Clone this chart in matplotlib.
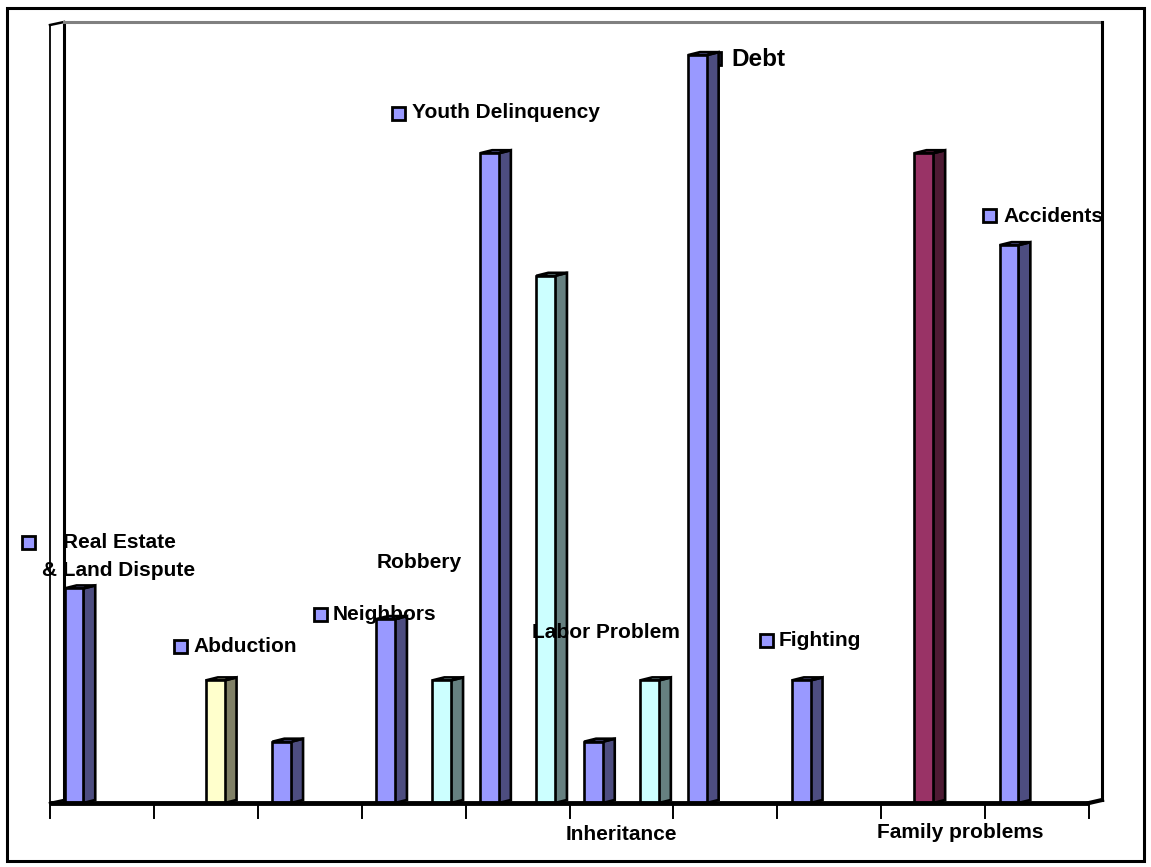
import matplotlib
matplotlib.use("Agg")
import matplotlib.pyplot as plt
from matplotlib.patches import Polygon, Rectangle

# ---------------- data ----------------
categories = ["Real Estate & Land Dispute", "Abduction", "Neighbors", "Robbery",
              "Youth Delinquency", "Labor Problem", "Debt", "Fighting",
              "Family problems", "Accidents"]
series_names = ["Blue", "Maroon", "Yellow", "Cyan"]
blue_vals   = [3.5, 0, 1.0, 3.0, 10.6, 1.0, 12.2, 2.0, 0, 9.1]
maroon_vals = [0, 0, 0, 0, 0, 0, 0, 0, 10.6, 0]
yellow_vals = [0, 2.0, 0, 0, 0, 0, 0, 0, 0, 0]
cyan_vals   = [0, 0, 0, 2.0, 8.6, 2.0, 0, 0, 0, 0]

label_texts = ["Real Estate", "& Land Dispute", "Abduction", "Neighbors", "Robbery",
               "Youth Delinquency", "Labor Problem", "Inheritance", "Debt",
               "Fighting", "Family problems", "Accidents"]

# ---------------- styling ----------------
front_cols = ["#9999FF", "#993366", "#FFFFCC", "#CCFFFF"]
side_cols  = ["#4D4D80", "#4D1A33", "#808066", "#668080"]

W, H = 1151, 867
X0, XU = 50.0, 103.9     # pixel of x=0, px per category
Y0, YU = 803.0, 61.3     # pixel of y=0, px per unit

fig = plt.figure(figsize=(W / 100, H / 100), dpi=100)
ax = fig.add_axes([0, 0, 1, 1])
ax.set_xlim(-X0 / XU, (W - X0) / XU)
ax.set_ylim(-(H - Y0) / YU, Y0 / YU)
ax.axis("off")

def fpx(x, y):
    return x / W, 1 - y / H

def dpx(x, y):
    return (x - X0) / XU, (Y0 - y) / YU

# outer border
fig.patches.append(Rectangle(fpx(7, 861), (1144 - 7) / W, (861 - 8) / H,
                             transform=fig.transFigure, fill=False,
                             edgecolor="black", linewidth=2.2, zorder=0))

n = len(categories)
gap = 0.28
bw = (1 - gap) / len(series_names)
ddx = 12 / XU
ddy = 3 / YU
wall_dx = 14 / XU
top_y = (Y0 - 22) / YU

# walls
ax.plot([0, 0], [0, (Y0 - 25) / YU], color="black", lw=1.3, zorder=1)
ax.plot([0, wall_dx], [(Y0 - 25) / YU, top_y], color="black", lw=1.8, zorder=1)
ax.plot([wall_dx, wall_dx], [ddy, top_y], color="black", lw=2.2, zorder=1)
right_x = (1102 - X0) / XU
ax.plot([wall_dx, right_x], [top_y, top_y], color="#808080", lw=2.2, zorder=1)
ax.plot([right_x, right_x], [ddy, top_y], color="black", lw=2.2, zorder=1)
# floor
ax.plot([0, wall_dx], [0, ddy], color="black", lw=1.8, zorder=1)
ax.plot([0, n], [0, 0], color="black", lw=3.5, zorder=6, solid_capstyle="butt")
ax.plot([n, right_x], [0, ddy], color="black", lw=3.0, zorder=6)
# ticks
for i in range(n + 1):
    ax.plot([i, i], [0, -15 / YU], color="black", lw=1.4, zorder=6)

# legend-key squares (in the axes, below the bars)
def key(x, y, size=13):
    x0, y0 = dpx(x, y + size)
    ax.add_patch(Rectangle((x0, y0), size / XU, size / YU,
                           facecolor="#9999FF", edgecolor="black",
                           linewidth=2.0, zorder=2))

for (x, y) in [(22, 536), (174, 640), (314, 608), (392, 107), (708, 52),
               (760, 634), (983, 209)]:
    key(x, y)

# bars
all_vals = [blue_vals, maroon_vals, yellow_vals, cyan_vals]
for s, vals in enumerate(all_vals):
    xs = [i + gap / 2 + s * bw for i in range(n) if vals[i] > 0]
    hs = [vals[i] for i in range(n) if vals[i] > 0]
    ax.bar(xs, hs, width=bw, align="edge", color=front_cols[s],
           edgecolor="black", linewidth=1.9, zorder=4)
    for x, h in zip(xs, hs):
        side = [(x + bw, 0), (x + bw + ddx, ddy), (x + bw + ddx, h + ddy), (x + bw, h)]
        top = [(x, h), (x + ddx, h + ddy), (x + bw + ddx, h + ddy), (x + bw, h)]
        ax.add_patch(Polygon(side, closed=True, facecolor=side_cols[s],
                             edgecolor="black", linewidth=1.9, zorder=3))
        ax.add_patch(Polygon(top, closed=True, facecolor=front_cols[s],
                             edgecolor="black", linewidth=1.9, zorder=3))

# labels
font = dict(family=["Liberation Sans", "DejaVu Sans"], fontweight="bold",
            color="black", va="center", ha="left", zorder=10)
placements = [(63, 542, 15), (42, 570, 15), (193, 646, 15), (333, 615, 15),
              (377, 562, 15), (412, 113, 15), (532, 633, 15), (566, 835, 15),
              (731, 59, 17.5), (779, 641, 15), (877, 833, 15), (1003, 217, 15)]
for txt, (x, y, fs) in zip(label_texts, placements):
    fx, fy = fpx(x, y)
    fig.text(fx, fy, txt, fontsize=fs, **font)

fig.savefig("out.png", dpi=100)
